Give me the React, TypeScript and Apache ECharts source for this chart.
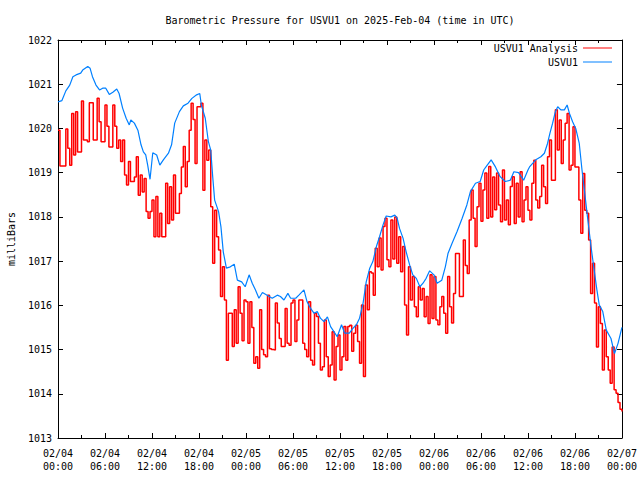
import React, { useEffect, useRef } from 'react';
import * as echarts from 'echarts';

const TITLE = 'Barometric Pressure for USVU1 on 2025-Feb-04 (time in UTC)';
const Y_LABEL = 'milliBars';
const SERIES_NAMES = ['USVU1 Analysis', 'USVU1'];

const xTickLabels = [
  '02/04\n00:00', '02/04\n06:00', '02/04\n12:00', '02/04\n18:00',
  '02/05\n00:00', '02/05\n06:00', '02/05\n12:00', '02/05\n18:00',
  '02/06\n00:00', '02/06\n06:00', '02/06\n12:00', '02/06\n18:00',
  '02/07\n00:00',
];
const X_MIN = 0;
const X_MAX = 72;
const X_STEP = 6;
const Y_MIN = 1013;
const Y_MAX = 1022;
const Y_STEP = 1;

// USVU1 Analysis: one reading every 15 minutes from 02/04 00:00 (hours)
const analysisStepHours = 0.25;
const analysisPressure = [
  1019.96, 1019.15, 1019.15, 1019.15,
  1019.99, 1019.55, 1019.17, 1020.34,
  1019.40, 1020.38, 1019.47, 1019.47,
  1020.62, 1019.74, 1019.74, 1019.70,
  1020.58, 1020.58, 1019.74, 1019.74,
  1020.68, 1020.15, 1019.70, 1019.70,
  1020.53, 1020.05, 1019.58, 1019.58,
  1020.53, 1020.05, 1019.55, 1019.74,
  1019.25, 1019.74, 1018.95, 1018.72,
  1019.25, 1018.80, 1018.80, 1018.90,
  1019.36, 1018.49, 1018.95, 1018.56,
  1018.87, 1018.12, 1017.97, 1018.12,
  1018.38, 1017.55, 1018.46, 1017.55,
  1018.08, 1017.55, 1017.55, 1018.76,
  1017.85, 1018.68, 1017.93, 1018.95,
  1018.08, 1018.08, 1018.53, 1019.13,
  1019.59, 1018.68, 1019.25, 1019.96,
  1020.57, 1020.20, 1019.21, 1020.49,
  1020.49, 1020.57, 1018.60, 1019.74,
  1019.28, 1019.51, 1018.23, 1016.95,
  1018.15, 1017.55, 1017.25, 1016.20,
  1016.87, 1016.12, 1014.76, 1015.82,
  1015.82, 1015.07, 1015.90, 1015.14,
  1016.42, 1015.82, 1015.20, 1016.12,
  1016.08, 1015.14, 1016.08, 1015.50,
  1014.69, 1014.84, 1014.58, 1015.90,
  1015.00, 1014.88, 1014.84, 1016.23,
  1015.02, 1015.00, 1014.99, 1016.05,
  1015.60, 1015.25, 1015.07, 1015.07,
  1015.93, 1015.14, 1015.10, 1016.05,
  1016.12, 1015.18, 1015.67, 1016.12,
  1016.12, 1015.14, 1015.00, 1014.84,
  1016.08, 1014.76, 1014.65, 1015.82,
  1015.75, 1015.14, 1014.54, 1014.61,
  1015.67, 1014.84, 1014.39, 1014.65,
  1015.40, 1014.31, 1015.07, 1015.33,
  1014.54, 1014.84, 1015.52, 1014.76,
  1015.52, 1015.55, 1014.96, 1015.37,
  1015.55, 1015.18, 1014.69, 1016.01,
  1014.39, 1016.46, 1015.90, 1016.76,
  1016.73, 1016.23, 1017.29, 1016.87,
  1017.52, 1016.80, 1017.78, 1017.97,
  1017.03, 1016.87, 1017.93, 1017.05,
  1018.00, 1016.95, 1017.55, 1016.76,
  1017.33, 1016.01, 1015.33, 1016.87,
  1016.12, 1016.65, 1015.97, 1015.74,
  1016.42, 1016.12, 1016.38, 1015.74,
  1016.20, 1015.59, 1016.69, 1015.70,
  1016.65, 1015.67, 1015.56, 1015.97,
  1016.20, 1015.82, 1015.37, 1016.65,
  1015.97, 1015.60, 1016.27, 1017.17,
  1017.17, 1016.20, 1016.20, 1017.48,
  1016.90, 1016.72, 1017.93, 1018.61,
  1017.97, 1017.33, 1018.23, 1018.76,
  1017.90, 1018.61, 1018.99, 1017.97,
  1019.14, 1018.00, 1018.90, 1018.16,
  1018.99, 1018.27, 1017.89, 1019.06,
  1017.93, 1018.38, 1017.82, 1018.69,
  1018.91, 1017.85, 1018.76, 1018.00,
  1019.02, 1017.89, 1018.38, 1018.68,
  1018.15, 1017.93, 1018.76, 1019.28,
  1018.38, 1018.20, 1018.46, 1019.17,
  1018.68, 1018.30, 1019.36, 1019.74,
  1018.83, 1018.83, 1020.42, 1019.51,
  1020.19, 1019.21, 1019.74, 1020.12,
  1020.34, 1019.06, 1019.17, 1020.04,
  1019.13, 1019.13, 1018.38, 1017.63,
  1018.98, 1018.15, 1018.08, 1017.48,
  1016.27, 1016.95, 1016.05, 1015.06,
  1015.97, 1015.59, 1014.54, 1015.44,
  1014.84, 1014.54, 1014.24, 1015.06,
  1014.09, 1014.01, 1013.80, 1013.65,
  1013.60,
];

// USVU1 station: hours since 02/04 00:00 and pressure
const stationHours = [
  0, 0.5, 1.0, 1.5, 1.9, 2.3, 2.9, 3.15, 3.8, 4.1, 4.4, 4.85, 5.3, 5.7, 6.1, 6.55, 7.0, 7.5, 7.8,
  8.25, 8.7, 9.1, 9.3, 9.75, 10.2, 10.6, 10.9, 11.2, 11.45, 11.75, 12.1, 12.6, 13.0, 13.45, 14.1,
  14.5, 14.9, 15.5, 16.0, 16.6, 17.1, 17.7, 18.1, 18.3, 18.8, 19.2, 19.5, 19.75, 20.0, 20.5, 20.8,
  21.1, 21.5, 22.0, 22.5, 22.9, 23.45, 23.9, 24.4, 24.8, 25.2, 25.65, 26.1, 26.7, 27.35, 28.0,
  28.4, 28.85, 29.35, 29.7, 30.35, 30.75, 31.4, 31.8, 32.25, 32.7, 33.1, 33.5, 33.95, 34.4, 34.8,
  35.25, 35.65, 36.2, 36.6, 37.2, 37.65, 38.1, 38.5, 38.95, 39.35, 39.8, 40.2, 40.65, 41.05, 41.5,
  41.9, 42.5, 43.0, 43.3, 43.6, 44.05, 44.45, 44.9, 45.3, 45.75, 46.2, 46.6, 47.0, 47.45, 48.0,
  48.4, 49.0, 49.45, 49.8, 50.3, 50.95, 51.6, 52.2, 52.65, 53.3, 53.9, 54.35, 54.8, 55.3, 55.85,
  56.45, 57.1, 57.75, 58.2, 58.8, 59.45, 60.0, 60.2, 61.0, 61.65, 62.1, 62.5, 62.8, 63.15, 63.5,
  63.8, 64.2, 64.65, 65.0, 65.3, 65.7, 66.1, 66.55, 66.9, 67.2, 67.6, 68.05, 68.45, 68.8, 69.1,
  69.55, 70.0, 70.6, 71.05, 71.5, 72.0,
];
const stationPressure = [
  1020.60, 1020.63, 1020.85, 1020.98, 1021.17, 1021.21, 1021.25, 1021.32, 1021.40, 1021.36, 1021.17,
  1020.98, 1020.87, 1020.91, 1020.91, 1020.77, 1020.82, 1020.89, 1020.79, 1020.46, 1020.23, 1020.08,
  1020.19, 1020.12, 1019.96, 1019.63, 1019.47, 1019.40, 1019.17, 1018.85, 1019.45, 1019.40, 1019.17,
  1019.29, 1019.44, 1019.63, 1020.12, 1020.38, 1020.51, 1020.57, 1020.68, 1020.76, 1020.79, 1020.53,
  1020.23, 1019.70, 1019.51, 1018.91, 1018.38, 1018.12, 1017.78, 1017.21, 1016.84, 1016.87, 1016.93,
  1016.57, 1016.53, 1016.42, 1016.69, 1016.50, 1016.35, 1016.16, 1016.29, 1016.23, 1016.16, 1016.23,
  1016.20, 1016.12, 1016.27, 1016.16, 1016.16, 1016.23, 1016.35, 1016.08, 1015.93, 1015.82, 1015.86,
  1015.71, 1015.63, 1015.74, 1015.52, 1015.40, 1015.29, 1015.56, 1015.37, 1015.37, 1015.48, 1015.56,
  1015.71, 1016.05, 1016.53, 1016.84, 1016.99, 1017.33, 1017.55, 1017.82, 1018.02, 1018.00, 1018.04,
  1017.97, 1017.74, 1017.52, 1017.21, 1016.91, 1016.69, 1016.61, 1016.42, 1016.50, 1016.61, 1016.78,
  1016.69, 1016.50, 1016.57, 1016.87, 1017.18, 1017.40, 1017.67, 1017.97, 1018.27, 1018.57, 1018.76,
  1018.80, 1019.06, 1019.17, 1019.29, 1019.13, 1018.91, 1018.80, 1018.83, 1019.02, 1019.00, 1018.83,
  1019.06, 1019.13, 1019.29, 1019.36, 1019.44, 1019.66, 1019.89, 1020.12, 1020.38, 1020.49, 1020.42,
  1020.42, 1020.53, 1020.34, 1020.15, 1020.00, 1019.66, 1019.06, 1018.61, 1018.00, 1017.33, 1016.80,
  1016.35, 1016.01, 1015.86, 1015.44, 1015.25, 1014.91, 1015.14, 1015.50,
];

const FONT_FAMILY = '"DejaVu Sans Mono", "Liberation Mono", monospace';
const FONT_SIZE = 10;
const RED = '#ff0000';
const BLUE = '#0080ff';

export default function App() {
  const ref = useRef<HTMLDivElement>(null);

  useEffect(() => {
    document.body.style.margin = '0';
    if (!ref.current) return;
    const chart = echarts.init(ref.current, undefined, { renderer: 'svg' });

    const analysisData = analysisPressure.map((v, i) => [X_MIN + i * analysisStepHours, v]);
    const stationData = stationHours.map((h, i) => [h, stationPressure[i]]);

    const axisLineStyle = { color: '#000', width: 1 };
    const xCommon = {
      type: 'value' as const,
      min: X_MIN,
      max: X_MAX,
      interval: X_STEP,
      splitLine: { show: false },
      axisLine: { show: true, onZero: false, lineStyle: axisLineStyle },
      axisTick: { show: true, inside: true, length: 5, lineStyle: axisLineStyle },
      minorTick: { show: true, splitNumber: 2, length: 3, lineStyle: axisLineStyle },
    };
    const yCommon = {
      type: 'value' as const,
      min: Y_MIN,
      max: Y_MAX,
      interval: Y_STEP,
      splitLine: { show: false },
      axisLine: { show: true, onZero: false, lineStyle: axisLineStyle },
      axisTick: { show: true, inside: true, length: 5, lineStyle: axisLineStyle },
    };

    chart.setOption({
      animation: false,
      backgroundColor: '#fff',
      textStyle: { fontFamily: FONT_FAMILY, fontSize: FONT_SIZE, color: '#000' },
      grid: { left: 58, right: 18, top: 40, bottom: 42, containLabel: false },
      legend: {
        data: SERIES_NAMES,
        orient: 'vertical',
        right: 28,
        top: 42,
        align: 'right',
        icon: 'rect',
        itemWidth: 29,
        itemHeight: 1,
        itemGap: 2,
        padding: 0,
        selectedMode: false,
        textStyle: { fontFamily: FONT_FAMILY, fontSize: FONT_SIZE, color: '#000', lineHeight: 12 },
      },
      xAxis: [
        {
          ...xCommon,
          position: 'bottom',
          axisLabel: {
            show: true,
            margin: 9,
            color: '#000',
            fontFamily: FONT_FAMILY,
            fontSize: FONT_SIZE,
            lineHeight: 13,
            formatter: (v: number) => xTickLabels[Math.round((v - X_MIN) / X_STEP)] ?? '',
          },
        },
        { ...xCommon, position: 'top', axisLabel: { show: false } },
      ],
      yAxis: [
        {
          ...yCommon,
          position: 'left',
          axisLabel: {
            show: true,
            margin: 6,
            color: '#000',
            fontFamily: FONT_FAMILY,
            fontSize: FONT_SIZE,
            formatter: (v: number) => String(Math.round(v)),
          },
        },
        { ...yCommon, position: 'right', axisLabel: { show: false } },
      ],
      graphic: [
        {
          type: 'text',
          x: 340,
          y: 20,
          style: {
            text: TITLE,
            font: `${FONT_SIZE}px ${FONT_FAMILY}`,
            fill: '#000',
            align: 'center',
            verticalAlign: 'middle',
            textAlign: 'center',
            textVerticalAlign: 'middle',
          },
        },
        {
          type: 'text',
          x: 11,
          y: 239,
          rotation: Math.PI / 2,
          style: {
            text: Y_LABEL,
            font: `${FONT_SIZE}px ${FONT_FAMILY}`,
            fill: '#000',
            align: 'center',
            verticalAlign: 'middle',
            textAlign: 'center',
            textVerticalAlign: 'middle',
          },
        },
      ],
      series: [
        {
          name: SERIES_NAMES[0],
          type: 'line',
          xAxisIndex: 0,
          yAxisIndex: 0,
          data: analysisData,
          step: 'end',
          showSymbol: false,
          symbol: 'none',
          color: RED,
          lineStyle: { color: RED, width: 1.5 },
        },
        {
          name: SERIES_NAMES[1],
          type: 'line',
          xAxisIndex: 0,
          yAxisIndex: 0,
          data: stationData,
          showSymbol: false,
          symbol: 'none',
          color: BLUE,
          lineStyle: { color: BLUE, width: 1.2 },
        },
      ],
    });

    return () => {
      chart.dispose();
    };
  }, []);

  return (
    <div
      ref={ref}
      style={{ width: 640, height: 480, position: 'absolute', left: 0, top: 0, background: '#fff' }}
    />
  );
}
